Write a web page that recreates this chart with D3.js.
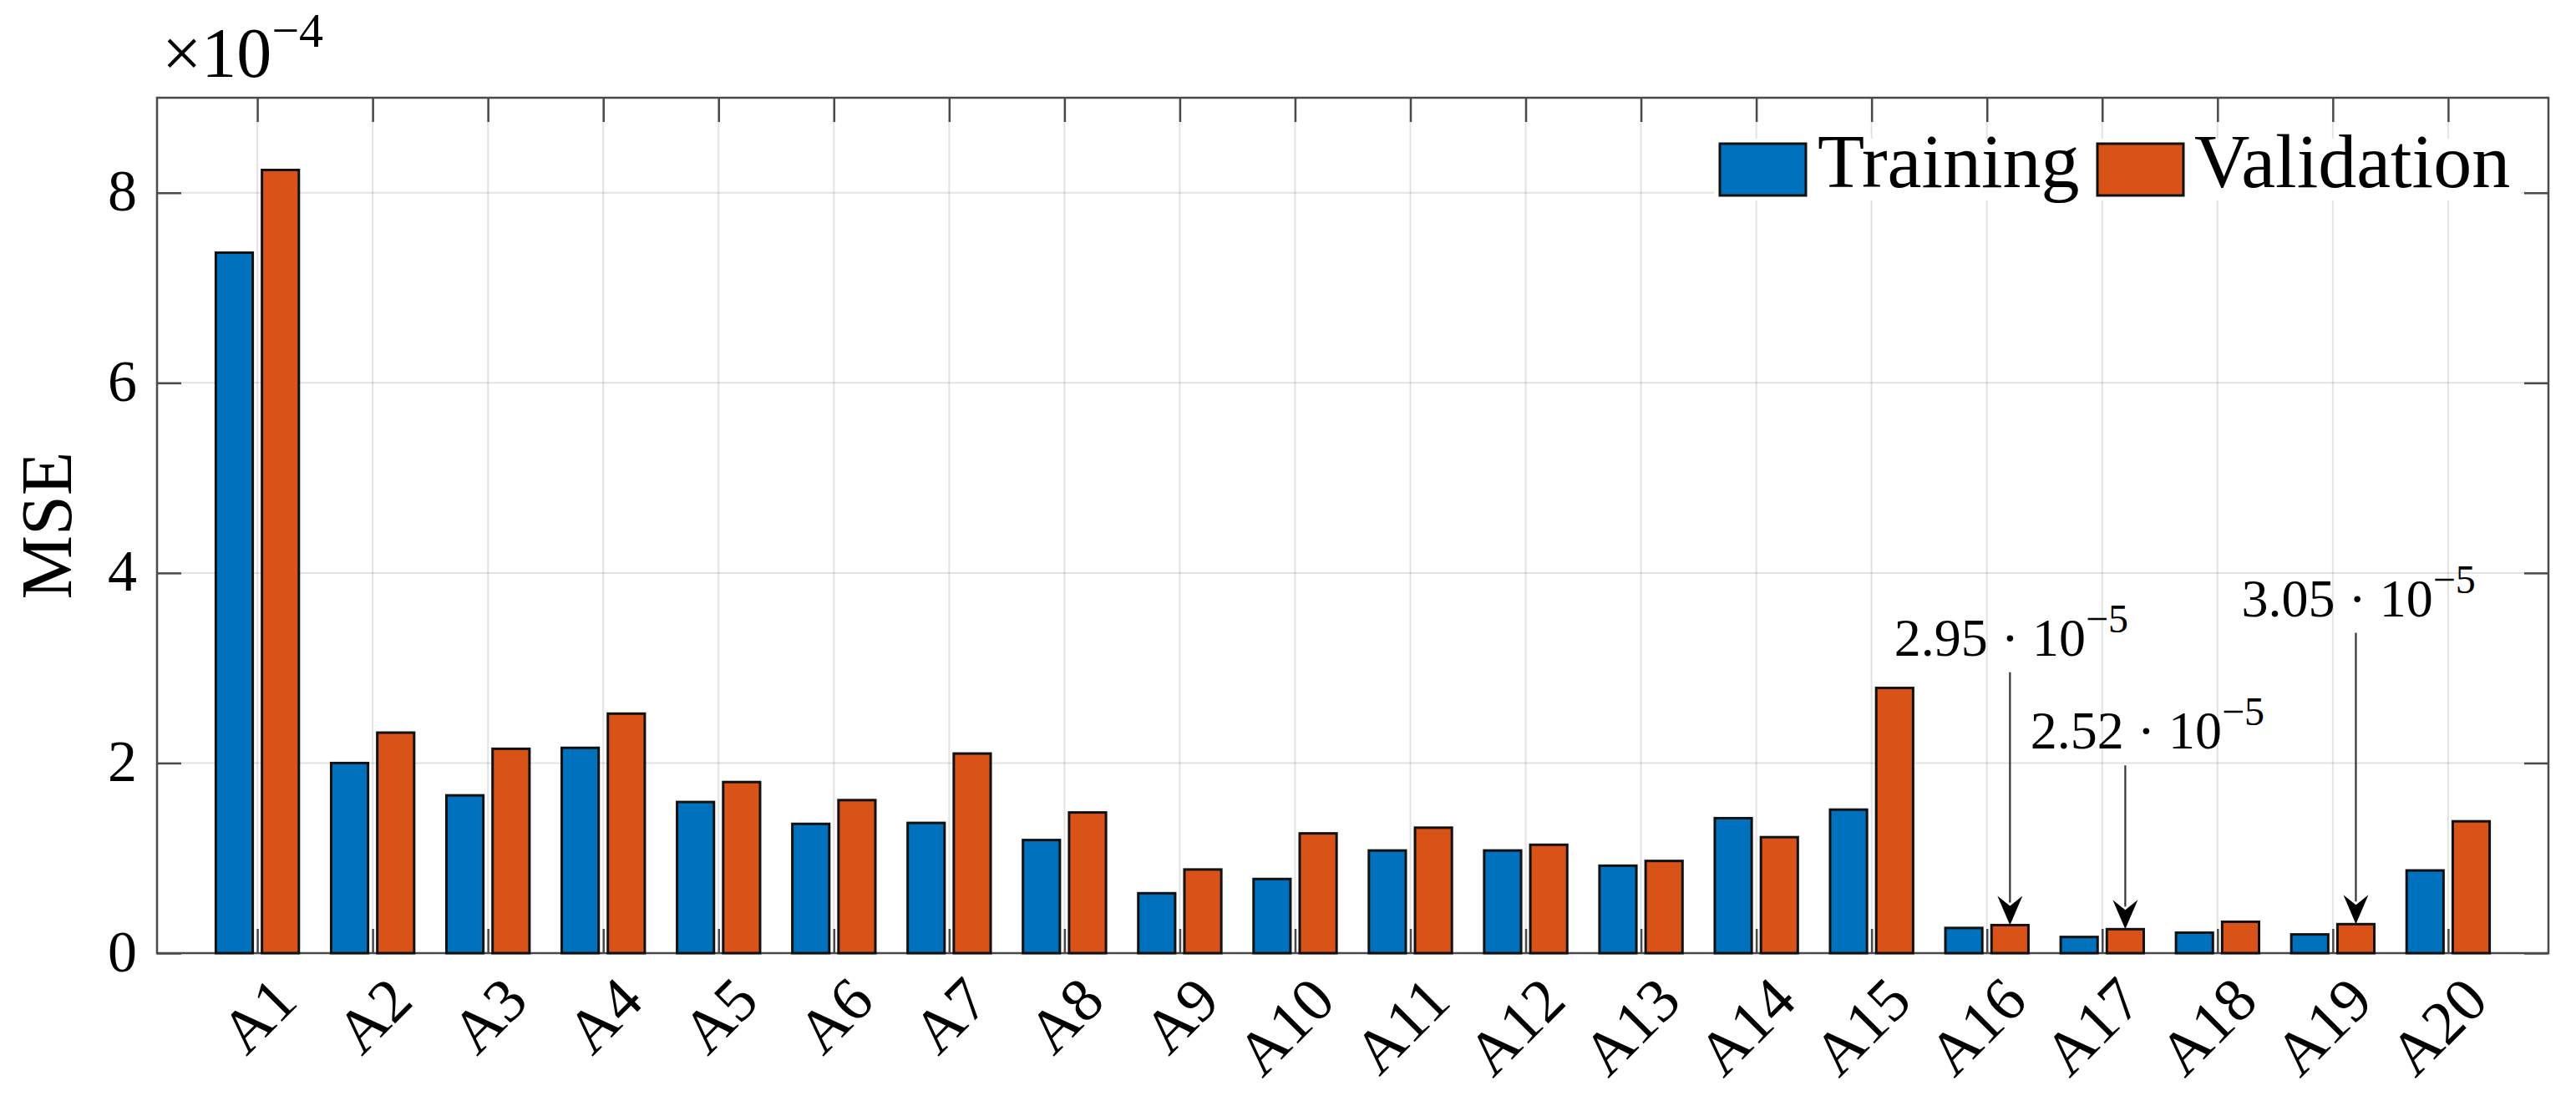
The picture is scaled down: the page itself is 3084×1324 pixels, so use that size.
<!DOCTYPE html>
<html>
<head>
<meta charset="utf-8">
<script src="https://cdn.jsdelivr.net/npm/d3@7"></script>
<style>
  html, body { margin: 0; padding: 0; background: #fff; }
  svg { display: block; }
  text { font-family: "Liberation Serif", "DejaVu Serif", serif; fill: #000; }
</style>
</head>
<body>
<svg id="chart" width="3084" height="1324"></svg>
<script>
// ---------------- data ----------------
const categories = ["A1","A2","A3","A4","A5","A6","A7","A8","A9","A10",
                    "A11","A12","A13","A14","A15","A16","A17","A18","A19","A20"];
const training   = [7.37e-4, 2.00e-4, 1.66e-4, 2.16e-4, 1.59e-4, 1.36e-4, 1.37e-4, 1.19e-4, 0.63e-4, 0.78e-4,
                    1.08e-4, 1.08e-4, 0.92e-4, 1.42e-4, 1.51e-4, 0.265e-4, 0.17e-4, 0.215e-4, 0.197e-4, 0.87e-4];
const validation = [8.24e-4, 2.32e-4, 2.15e-4, 2.52e-4, 1.80e-4, 1.61e-4, 2.10e-4, 1.48e-4, 0.88e-4, 1.26e-4,
                    1.32e-4, 1.14e-4, 0.97e-4, 1.22e-4, 2.79e-4, 0.295e-4, 0.252e-4, 0.33e-4, 0.305e-4, 1.387e-4];
const seriesNames = ["Training", "Validation"];
const yTicks = [0, 2e-4, 4e-4, 6e-4, 8e-4];
const yExponent = -4;
const yLabel = "MSE";
// annotations: category index (1-based), mantissa text, tail value, text left (x units), text baseline value
const annCategory = [16, 17, 19];
const annMantissa = ["2.95", "2.52", "3.05"];
const annTail     = [2.956e-4, 1.975e-4, 3.37e-4];
const annTextX    = [15.196, 16.376, 18.207];
const annTextY    = [3.13e-4, 2.155e-4, 3.546e-4];

// ---------------- layout ----------------
const colors = ["#0072BD", "#D95319"];
const L = 188, R = 3051, T = 117, B = 1141;
const svg = d3.select("#chart");

const x = d3.scaleLinear().domain([0.13, 20.87]).range([L, R]);
const y = d3.scaleLinear().domain([0, 9e-4]).range([B, T]);
const offsets = [-0.2, 0.2];
const barW = 0.32;
const tickLen = 29;
const axisColor = "#4a4a4a";

// grid
const grid = svg.append("g");
grid.selectAll("line.gx").data(d3.range(1, categories.length + 1)).join("line")
  .attr("x1", d => x(d)).attr("x2", d => x(d)).attr("y1", T).attr("y2", B)
  .attr("stroke", "#262626").attr("stroke-opacity", 0.13).attr("stroke-width", 2);
grid.selectAll("line.gy").data(yTicks).join("line")
  .attr("x1", L).attr("x2", R).attr("y1", d => y(d)).attr("y2", d => y(d))
  .attr("stroke", "#262626").attr("stroke-opacity", 0.13).attr("stroke-width", 2);

// axes (ticks inward)
const fmtY = d => d3.format("d")(Math.round(d / Math.pow(10, yExponent)));
const gLeft = svg.append("g").attr("transform", `translate(${L},0)`)
  .call(d3.axisLeft(y).tickValues(yTicks).tickSizeInner(-tickLen).tickSizeOuter(0).tickPadding(24).tickFormat(fmtY));
const gRight = svg.append("g").attr("transform", `translate(${R},0)`)
  .call(d3.axisRight(y).tickValues(yTicks).tickSizeInner(-tickLen).tickSizeOuter(0).tickFormat(""));
const xIdx = d3.range(1, categories.length + 1);
const gBottom = svg.append("g").attr("transform", `translate(0,${B})`)
  .call(d3.axisBottom(x).tickValues(xIdx).tickSizeInner(-tickLen).tickSizeOuter(0).tickFormat(i => categories[i - 1]));
const gTop = svg.append("g").attr("transform", `translate(0,${T})`)
  .call(d3.axisTop(x).tickValues(xIdx).tickSizeInner(-tickLen).tickSizeOuter(0).tickFormat(""));

[gLeft, gRight, gBottom, gTop].forEach(g => {
  g.select(".domain").remove();
  g.selectAll(".tick line").attr("stroke", axisColor).attr("stroke-width", 2.5);
});
gLeft.selectAll(".tick text")
  .attr("font-family", "Liberation Serif").attr("font-size", 70).attr("fill", "#000")
  .attr("dy", "0.3em");
gBottom.selectAll(".tick text")
  .attr("font-family", "Liberation Serif").attr("font-size", 74).attr("fill", "#000")
  .attr("x", 0).attr("y", 0).attr("dy", "0.35em")
  .attr("text-anchor", "end")
  .attr("transform", "translate(32,42) rotate(-45)");

svg.append("rect").attr("x", L).attr("y", T).attr("width", R - L).attr("height", B - T)
  .attr("fill", "none").attr("stroke", axisColor).attr("stroke-width", 2.5);

// bars
const seriesData = [training, validation];
seriesData.forEach((vals, s) => {
  svg.append("g").selectAll("rect").data(vals).join("rect")
    .attr("x", (d, i) => x(i + 1 + offsets[s] - barW / 2))
    .attr("width", (d, i) => x(i + 1 + offsets[s] + barW / 2) - x(i + 1 + offsets[s] - barW / 2))
    .attr("y", d => y(d))
    .attr("height", d => y(0) - y(d))
    .attr("fill", colors[s])
    .attr("stroke", "#111").attr("stroke-width", 3);
});

// exponent label
const expT = svg.append("text").attr("x", 194).attr("y", 92).attr("font-size", 84);
expT.append("tspan").text("\u00D710");
expT.append("tspan").attr("dy", -36).attr("font-size", 58).text("\u2212" + Math.abs(yExponent));

// y label
svg.append("text")
  .attr("transform", `translate(85,${(T + B) / 2}) rotate(-90)`)
  .attr("text-anchor", "middle").attr("font-size", 86).text(yLabel);

// legend
const leg = svg.append("g");
leg.append("rect").attr("x", 2052).attr("y", 166).attr("width", 966).attr("height", 74).attr("fill", "#fff");
const legBoxX = [2059, 2511], legTextX = [2176, 2627];
seriesNames.forEach((n, s) => {
  leg.append("rect").attr("x", legBoxX[s]).attr("y", 172).attr("width", 103).attr("height", 62)
    .attr("fill", colors[s]).attr("stroke", "#111").attr("stroke-width", 3);
  leg.append("text").attr("x", legTextX[s]).attr("y", 224).attr("font-size", 92).text(n);
});

// annotations (text arrows)
const ann = svg.append("g");
annCategory.forEach((c, k) => {
  const ax = x(c + offsets[1]);
  const tipY = y(validation[c - 1]);
  const tailY = y(annTail[k]);
  const headL = 35, headW = 15;
  ann.append("line").attr("x1", ax).attr("x2", ax).attr("y1", tailY).attr("y2", tipY - headL + 8)
    .attr("stroke", "#333").attr("stroke-width", 2.2);
  ann.append("path")
    .attr("d", `M${ax},${tipY} L${ax - headW},${tipY - headL} L${ax},${tipY - headL + 12} L${ax + headW},${tipY - headL} Z`)
    .attr("fill", "#000");
  const t = ann.append("text").attr("x", x(annTextX[k])).attr("y", y(annTextY[k])).attr("font-size", 64);
  t.append("tspan").text(annMantissa[k] + " \u00B7 10");
  t.append("tspan").attr("dy", -28).attr("font-size", 48).text("\u22125");
});
</script>
</body>
</html>
